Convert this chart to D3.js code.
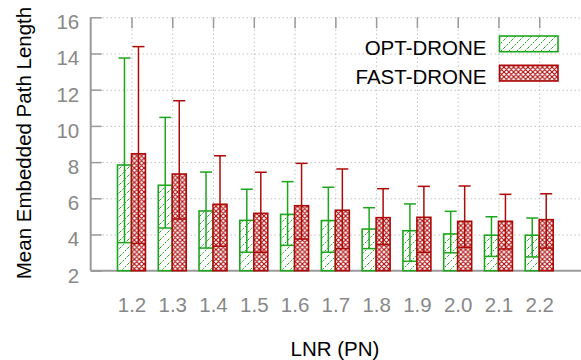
<!DOCTYPE html>
<html>
<head>
<meta charset="utf-8">
<script src="https://d3js.org/d3.v7.min.js"></script>
<style>
  body { margin: 0; background: #fff; }
  text { font-family: "Liberation Sans", Arial, Helvetica, sans-serif; }
</style>
</head>
<body>
<svg id="chart"></svg>
<script>
  // values
  var categories = ['1.2', '1.3', '1.4', '1.5', '1.6', '1.7', '1.8', '1.9', '2.0', '2.1', '2.2']
  var optMean  = [7.84, 6.72, 5.30, 4.78, 5.11, 4.77, 4.30, 4.21, 4.03, 3.96, 3.96]
  var optLow   = [3.55, 4.36, 3.25, 3.02, 3.40, 3.02, 3.22, 2.52, 2.99, 2.79, 2.76]
  var optHigh  = [13.75, 10.47, 7.45, 6.50, 6.92, 6.61, 5.48, 5.69, 5.28, 4.98, 4.91]
  var fastMean = [8.46, 7.34, 5.67, 5.17, 5.59, 5.34, 4.93, 4.95, 4.73, 4.73, 4.82]
  var fastLow  = [3.51, 4.86, 3.35, 3.02, 3.75, 3.22, 3.44, 3.02, 3.29, 3.20, 3.25]
  var fastHigh = [14.38, 11.39, 8.35, 7.44, 7.93, 7.62, 6.53, 6.66, 6.68, 6.22, 6.25]
  var yTicks = [2, 4, 6, 8, 10, 12, 14, 16]
  var seriesNames = ['OPT-DRONE', 'FAST-DRONE']

  var W = 581, H = 360
  var pL = 90.7, pR = 580, pT = 17.3, pB = 270.7
  var green = '#1ea51e', red = '#ad0a0a', axisGray = '#9a9a9a'

  var svg = d3.select('#chart').attr('width', W).attr('height', H)

  var x = d3.scalePoint().domain(categories).range([pL, pR]).padding(1)
  var y = d3.scaleLinear().domain([2, 16]).range([pB, pT])
  var bw = x.step() * 0.343

  // patterns
  var defs = svg.append('defs')
  var hatch = defs.append('pattern').attr('id', 'hatch').attr('patternUnits', 'userSpaceOnUse')
      .attr('width', 8).attr('height', 8)
  hatch.append('rect').attr('width', 8).attr('height', 8).attr('fill', '#fff')
  hatch.append('line').attr('x1', 0).attr('y1', 8).attr('x2', 8).attr('y2', 0)
      .attr('stroke', green).attr('stroke-width', 1).attr('stroke-dasharray', '2,1.4')
  var cross = defs.append('pattern').attr('id', 'cross').attr('patternUnits', 'userSpaceOnUse')
      .attr('width', 4.8).attr('height', 4.8)
  cross.append('rect').attr('width', 4.8).attr('height', 4.8).attr('fill', '#fff')
  cross.append('path').attr('d', 'M0,0L4.8,4.8M0,4.8L4.8,0M-1,1L1,-1M3.8,5.8L5.8,3.8M-1,3.8L1,5.8M3.8,-1L5.8,1')
      .attr('stroke', red).attr('stroke-width', 1.1)

  // grid
  var gridY = svg.append('g').attr('transform', 'translate(' + pL + ',0)')
      .call(d3.axisLeft(y).tickValues(yTicks.slice(1)).tickSize(-(W - pL)).tickFormat(''))
  var gridX = svg.append('g').attr('transform', 'translate(0,' + pB + ')')
      .call(d3.axisBottom(x).tickSize(-(pB - pT)).tickFormat(''))
  svg.selectAll('g').select('.domain').remove()
  svg.selectAll('g .tick line').attr('stroke', '#a8a8a8').attr('stroke-dasharray', '1,3')

  // axes
  var yAxis = svg.append('g').attr('transform', 'translate(' + pL + ',0)')
      .call(d3.axisLeft(y).tickValues(yTicks).tickSize(-11).tickPadding(11.5).tickSizeOuter(0))
  var xAxis = svg.append('g').attr('transform', 'translate(0,' + pB + ')')
      .call(d3.axisBottom(x).tickSize(-11).tickPadding(27).tickSizeOuter(0))
  var topAxis = svg.append('g').attr('transform', 'translate(0,' + pT + ')')
      .call(d3.axisTop(x).tickSize(-11).tickFormat('').tickSizeOuter(0))
  topAxis.select('.domain').remove()
  ;[yAxis, xAxis, topAxis].forEach(function (g) {
    g.selectAll('.domain').attr('stroke', axisGray).attr('stroke-width', 2)
    g.selectAll('.tick line').attr('stroke', axisGray).attr('stroke-width', 1.5)
    g.selectAll('text').attr('fill', '#888').style('font-size', '20.5px')
  })
  yAxis.selectAll('text').attr('dy', '0.56em')
  yAxis.select('.domain').attr('d', 'M0,' + pT + 'V' + pB)
  xAxis.select('.domain').attr('d', 'M' + pL + ',0H' + W)

  // boxes
  function drawSeries(mean, low, high, offset, color, fill) {
    var g = svg.append('g')
    var idx = d3.range(categories.length)
    g.selectAll('rect').data(idx).enter().append('rect')
        .attr('x', function (i) { return x(categories[i]) + offset })
        .attr('y', function (i) { return y(mean[i]) })
        .attr('width', bw)
        .attr('height', function (i) { return y(2) - y(mean[i]) })
        .attr('fill', fill)
    g.selectAll('line.whisker').data(idx).enter().append('line').attr('class', 'whisker')
        .attr('x1', function (i) { return x(categories[i]) + offset + bw / 2 })
        .attr('x2', function (i) { return x(categories[i]) + offset + bw / 2 })
        .attr('y1', function (i) { return y(low[i]) })
        .attr('y2', function (i) { return y(high[i]) })
        .attr('stroke', color).attr('stroke-width', 1.5)
    g.selectAll('line.lo').data(idx).enter().append('line').attr('class', 'lo')
        .attr('x1', function (i) { return x(categories[i]) + offset })
        .attr('x2', function (i) { return x(categories[i]) + offset + bw })
        .attr('y1', function (i) { return y(low[i]) })
        .attr('y2', function (i) { return y(low[i]) })
        .attr('stroke', color).attr('stroke-width', 1.5)
    g.selectAll('line.hi').data(idx).enter().append('line').attr('class', 'hi')
        .attr('x1', function (i) { return x(categories[i]) + offset + 1 })
        .attr('x2', function (i) { return x(categories[i]) + offset + bw - 1 })
        .attr('y1', function (i) { return y(high[i]) })
        .attr('y2', function (i) { return y(high[i]) })
        .attr('stroke', color).attr('stroke-width', 1.5)
    g.selectAll('rect.border').data(idx).enter().append('rect').attr('class', 'border')
        .attr('x', function (i) { return x(categories[i]) + offset })
        .attr('y', function (i) { return y(mean[i]) })
        .attr('width', bw)
        .attr('height', function (i) { return y(2) - y(mean[i]) })
        .attr('fill', 'none').attr('stroke', color).attr('stroke-width', 1.6)
  }
  drawSeries(optMean, optLow, optHigh, -bw, green, 'url(#hatch)')
  drawSeries(fastMean, fastLow, fastHigh, 0, red, 'url(#cross)')

  // legend
  var legend = svg.append('g')
  var legColors = [green, red], legFills = ['url(#hatch)', 'url(#cross)']
  seriesNames.forEach(function (name, i) {
    var yy = 36 + i * 29.3
    legend.append('text').attr('x', 486.5).attr('y', yy + 19).attr('text-anchor', 'end')
        .style('font-size', '20.5px').attr('fill', '#000').text(name)
    legend.append('rect').attr('x', 499.5).attr('y', yy).attr('width', 58.5).attr('height', 15.7)
        .attr('fill', legFills[i]).attr('stroke', legColors[i]).attr('stroke-width', 1.6)
  })

  // axis titles
  svg.append('text').attr('x', 335).attr('y', 356).attr('text-anchor', 'middle')
      .style('font-size', '20.5px').attr('fill', '#000').text('LNR (PN)')
  svg.append('text').attr('transform', 'translate(31,143) rotate(-90)').attr('text-anchor', 'middle')
      .style('font-size', '20.5px').attr('fill', '#000').text('Mean Embedded Path Length')
</script>
</body>
</html>
